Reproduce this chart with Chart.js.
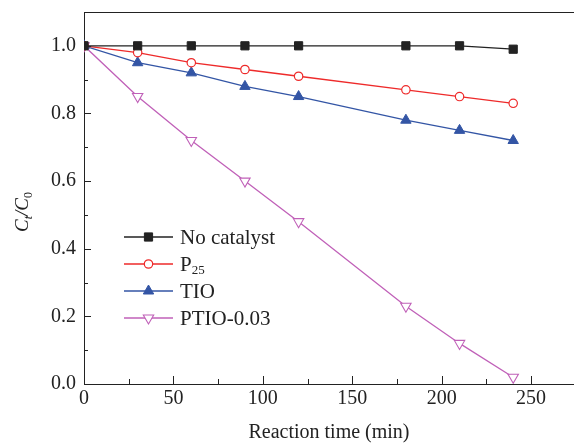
<html lang="en">
  <head>
    <title>Ct/C0 vs reaction time</title>
    <script type="text/javascript" src="https://cdn.jsdelivr.net/npm/chart.js"></script>
    <style>
      body { margin: 0; background: #fff; }
    </style>
  </head>
  <body>
    <canvas id="myChart" width="574" height="445"></canvas>
    <script>
      // reaction time (min)
      const times = [0, 30, 60, 90, 120, 180, 210, 240];

      // Ct/C0 for each sample
      const noCatalyst = [1.00, 1.00, 1.00, 1.00, 1.00, 1.00, 1.00, 0.99];
      const p25 = [1.00, 0.98, 0.95, 0.93, 0.91, 0.87, 0.85, 0.83];
      const tio = [1.00, 0.95, 0.92, 0.88, 0.85, 0.78, 0.75, 0.72];
      const ptio = [1.00, 0.85, 0.72, 0.60, 0.48, 0.23, 0.12, 0.02];

      const seriesNames = ['No catalyst', 'P', 'TIO', 'PTIO-0.03'];
      const seriesSubs = ['', '25', '', ''];

      const xTickLabels = [0, 50, 100, 150, 200, 250];
      const yTickLabels = ['0.0', '0.2', '0.4', '0.6', '0.8', '1.0'];

      const serif = "'Liberation Serif', 'Times New Roman', serif";

      const pts = (ys) => times.map((t, i) => ({x: t, y: ys[i]}));

      // inward tick marks, top frame line, y title and legend
      const decor = {
        id: 'decor',
        afterDraw(chart) {
          const ctx = chart.ctx;
          const {left, right, top, bottom} = chart.chartArea;
          const xs = chart.scales.x, ys = chart.scales.y;
          ctx.save();
          ctx.strokeStyle = '#222';
          ctx.lineWidth = 1;
          ctx.beginPath();
          ctx.moveTo(left, top + 0.5);
          ctx.lineTo(right, top + 0.5);
          xs.ticks.forEach(t => {
            const px = Math.round(xs.getPixelForValue(t.value)) + 0.5;
            const len = t.value % 50 === 0 ? 8 : 5;
            ctx.moveTo(px, bottom);
            ctx.lineTo(px, bottom - len);
          });
          ys.ticks.forEach(t => {
            const k = Math.round(t.value * 10);
            const py = Math.round(ys.getPixelForValue(t.value)) + 0.5;
            const len = k % 2 === 0 ? 7 : 4;
            ctx.moveTo(left, py);
            ctx.lineTo(left + len, py);
          });
          ctx.stroke();

          // y title C_t / C_0
          ctx.translate(21, 212);
          ctx.rotate(-Math.PI / 2);
          ctx.fillStyle = '#222';
          ctx.textBaseline = 'alphabetic';
          const big = 'italic 19px ' + serif, small = 'italic 12px ' + serif, smallUp = '12px ' + serif;
          const parts = [
            ['C', big, 0], ['t', small, 4], ['/', big, 0],
            ['C', big, 0], ['0', smallUp, 4]
          ];
          let w = 0;
          parts.forEach(p => { ctx.font = p[1]; w += ctx.measureText(p[0]).width; });
          let cx = -w / 2;
          parts.forEach(p => {
            ctx.font = p[1];
            ctx.fillText(p[0], cx, 7 + p[2]);
            cx += ctx.measureText(p[0]).width;
          });
          ctx.setTransform(1, 0, 0, 1, 0, 0);

          // legend
          const lx0 = 124, lx1 = 173, ly0 = 237, dy = 27;
          chart.data.datasets.forEach((ds, i) => {
            const y = ly0 + i * dy;
            ctx.strokeStyle = ds.borderColor;
            ctx.lineWidth = ds.borderWidth;
            ctx.beginPath();
            ctx.moveTo(lx0, y);
            ctx.lineTo(lx1, y);
            ctx.stroke();
            ctx.fillStyle = ds.pointBackgroundColor;
            ctx.strokeStyle = ds.pointBorderColor;
            ctx.lineWidth = ds.pointBorderWidth;
            Chart.helpers.drawPoint(ctx, {
              pointStyle: ds.pointStyle,
              radius: ds.pointRadius,
              rotation: ds.pointRotation || 0,
              borderWidth: ds.pointBorderWidth
            }, (lx0 + lx1) / 2, y);
            ctx.fillStyle = '#222';
            ctx.font = '21px ' + serif;
            ctx.textBaseline = 'middle';
            ctx.fillText(seriesNames[i], 180, y + 1);
            if (seriesSubs[i]) {
              const tw = ctx.measureText(seriesNames[i]).width;
              ctx.font = '13px ' + serif;
              ctx.fillText(seriesSubs[i], 180 + tw, y + 7);
            }
          });
          ctx.restore();
        }
      };

      const ctx = document.getElementById('myChart').getContext('2d');

      new Chart(ctx, {
        type: 'line',
        data: {
          datasets: [{
            label: seriesNames[0],
            data: pts(noCatalyst),
            borderColor: '#222',
            borderWidth: 1.3,
            pointStyle: 'rect',
            pointRadius: 5.8,
            pointBackgroundColor: '#222',
            pointBorderColor: '#222',
            pointBorderWidth: 1
          }, {
            label: seriesNames[1],
            data: pts(p25),
            borderColor: '#ee2a2a',
            borderWidth: 1.3,
            pointStyle: 'circle',
            pointRadius: 4.2,
            pointBackgroundColor: '#fff',
            pointBorderColor: '#ee2a2a',
            pointBorderWidth: 1.2
          }, {
            label: seriesNames[2],
            data: pts(tio),
            borderColor: '#3355a5',
            borderWidth: 1.3,
            pointStyle: 'triangle',
            pointRadius: 6,
            pointBackgroundColor: '#3355a5',
            pointBorderColor: '#3355a5',
            pointBorderWidth: 1
          }, {
            label: seriesNames[3],
            data: pts(ptio),
            borderColor: '#c060b8',
            borderWidth: 1.3,
            pointStyle: 'triangle',
            pointRotation: 180,
            pointRadius: 6,
            pointBackgroundColor: '#fff',
            pointBorderColor: '#c060b8',
            pointBorderWidth: 1.1
          }]
        },
        options: {
          responsive: false,
          animation: false,
          layout: {autoPadding: false, padding: {top: 12, right: 0, left: 0, bottom: 0}},
          plugins: {
            legend: {display: false},
            tooltip: {enabled: false}
          },
          scales: {
            x: {
              type: 'linear',
              min: 0,
              max: 274,
              grid: {display: false, drawTicks: false},
              border: {display: true, color: '#222', width: 1},
              afterFit: (s) => { s.height = 61; s.paddingLeft = 0; s.paddingRight = 0; },
              ticks: {
                stepSize: 25,
                includeBounds: false,
                autoSkip: false,
                maxRotation: 0,
                padding: 3,
                color: '#222',
                font: {family: serif, size: 20},
                callback: (v) => xTickLabels.includes(v) ? String(v) : ''
              },
              title: {
                display: true,
                text: 'Reaction time (min)',
                color: '#222',
                padding: {top: 0, bottom: 0},
                font: {family: serif, size: 20}
              }
            },
            y: {
              min: 0,
              max: 1.1,
              grid: {display: false, drawTicks: false},
              border: {display: true, color: '#222', width: 1},
              afterFit: (s) => { s.width = 84; s.paddingTop = 0; s.paddingBottom = 0; },
              ticks: {
                stepSize: 0.1,
                includeBounds: false,
                autoSkip: false,
                padding: 8,
                color: '#222',
                font: {family: serif, size: 20},
                callback: (v) => {
                  const lbl = (Math.round(v * 10) / 10).toFixed(1);
                  return yTickLabels.includes(lbl) ? lbl : '';
                }
              }
            }
          }
        },
        plugins: [decor]
      });
    </script>
  </body>
</html>
